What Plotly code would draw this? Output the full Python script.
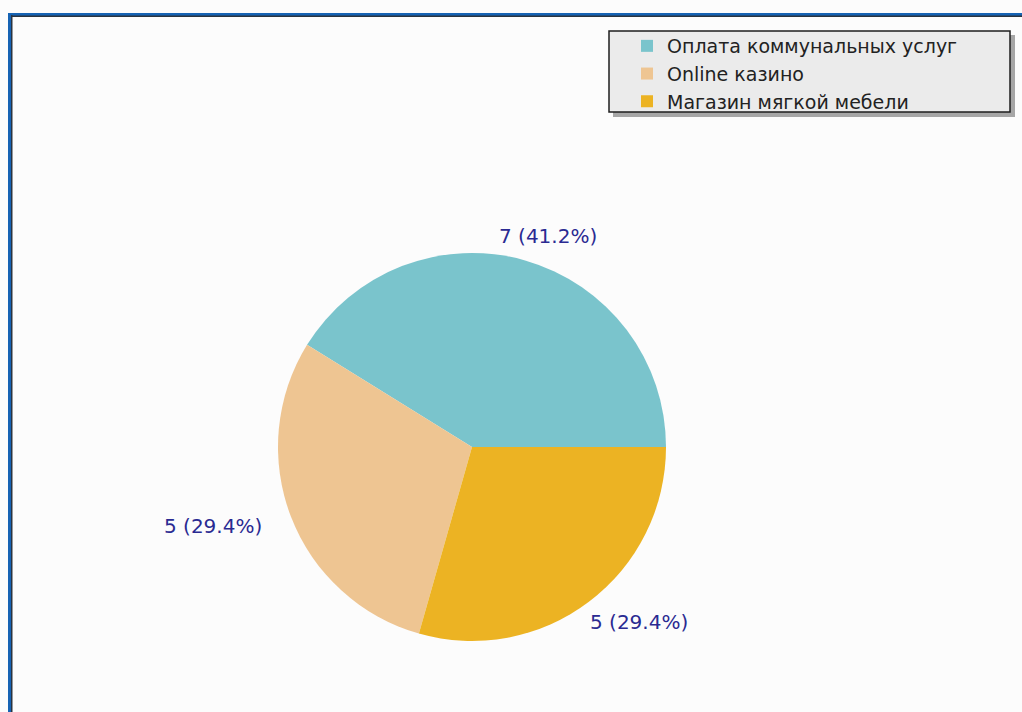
import math
import plotly.graph_objects as go

# Slice data
categories = ["Оплата коммунальных услуг", "Online казино", "Магазин мягкой мебели"]
values = [7, 5, 5]
colors = ["#7ac4cc", "#eec592", "#ecb323"]

W, H = 1022, 712

def px_x(x):
    return x / W

def px_y(y):
    return 1 - y / H

total = sum(values)
# first slice starts at 3 o'clock and the slices run counterclockwise
rotation = 90 - 360 * values[0] / total

# pie placement (pixels)
cx, cy, R = 472, 447, 194

fig = go.Figure()
fig.add_trace(go.Pie(
    labels=categories,
    values=values,
    sort=False,
    direction="counterclockwise",
    rotation=rotation,
    marker=dict(colors=colors, line=dict(width=0)),
    textinfo="none",
    hoverinfo="label+value+percent",
    domain=dict(x=[px_x(cx - R), px_x(cx + R)], y=[px_y(cy + R), px_y(cy - R)]),
    automargin=False,
))

# value labels placed on an ellipse around the pie at each slice's mid-angle
annotations = []
start = 0.0
for v in values:
    share = v / total
    mid = math.radians((start + share / 2) * 360)
    start += share
    lx = cx + 1.43 * R * math.cos(mid)
    ly = cy - 1.13 * R * math.sin(mid)
    annotations.append(dict(
        x=px_x(lx), y=px_y(ly), xref="paper", yref="paper",
        text=f"{v} ({share * 100:.1f}%)", showarrow=False,
        xanchor="center", yanchor="middle",
        font=dict(family="DejaVu Sans", size=20, color="#2a2a92"),
    ))

shapes = [
    # legend drop shadow and box
    dict(type="rect", xref="paper", yref="paper",
         x0=px_x(613), x1=px_x(1015), y0=px_y(117), y1=px_y(35),
         fillcolor="#a6a6a6", line=dict(width=0)),
    dict(type="rect", xref="paper", yref="paper",
         x0=px_x(609), x1=px_x(1010), y0=px_y(112), y1=px_y(31),
         fillcolor="#ebebeb", line=dict(color="#1e1e1e", width=1.5)),
    # frame: blue outer edge with a dark inner line
    dict(type="rect", xref="paper", yref="paper",
         x0=px_x(8), x1=px_x(11), y0=0, y1=px_y(13),
         fillcolor="#1663b4", line=dict(width=0)),
    dict(type="rect", xref="paper", yref="paper",
         x0=px_x(8), x1=1, y0=px_y(16), y1=px_y(13),
         fillcolor="#1663b4", line=dict(width=0)),
    dict(type="rect", xref="paper", yref="paper",
         x0=px_x(11), x1=px_x(12.5), y0=0, y1=px_y(15),
         fillcolor="#2a3440", line=dict(width=0)),
    dict(type="rect", xref="paper", yref="paper",
         x0=px_x(11), x1=1, y0=px_y(17), y1=px_y(15.5),
         fillcolor="#2a3440", line=dict(width=0)),
]

fig.update_layout(
    width=W, height=H,
    margin=dict(l=0, r=0, t=0, b=0),
    paper_bgcolor="#fcfcfc",
    plot_bgcolor="#fcfcfc",
    shapes=shapes,
    annotations=annotations,
    showlegend=True,
    legend=dict(
        x=px_x(627), y=px_y(27), xanchor="left", yanchor="top",
        bgcolor="rgba(0,0,0,0)", borderwidth=0,
        font=dict(family="DejaVu Sans", size=19, color="#222222"),
        itemsizing="constant",
        tracegroupgap=0,
    ),
)

fig.write_html("out.html")
